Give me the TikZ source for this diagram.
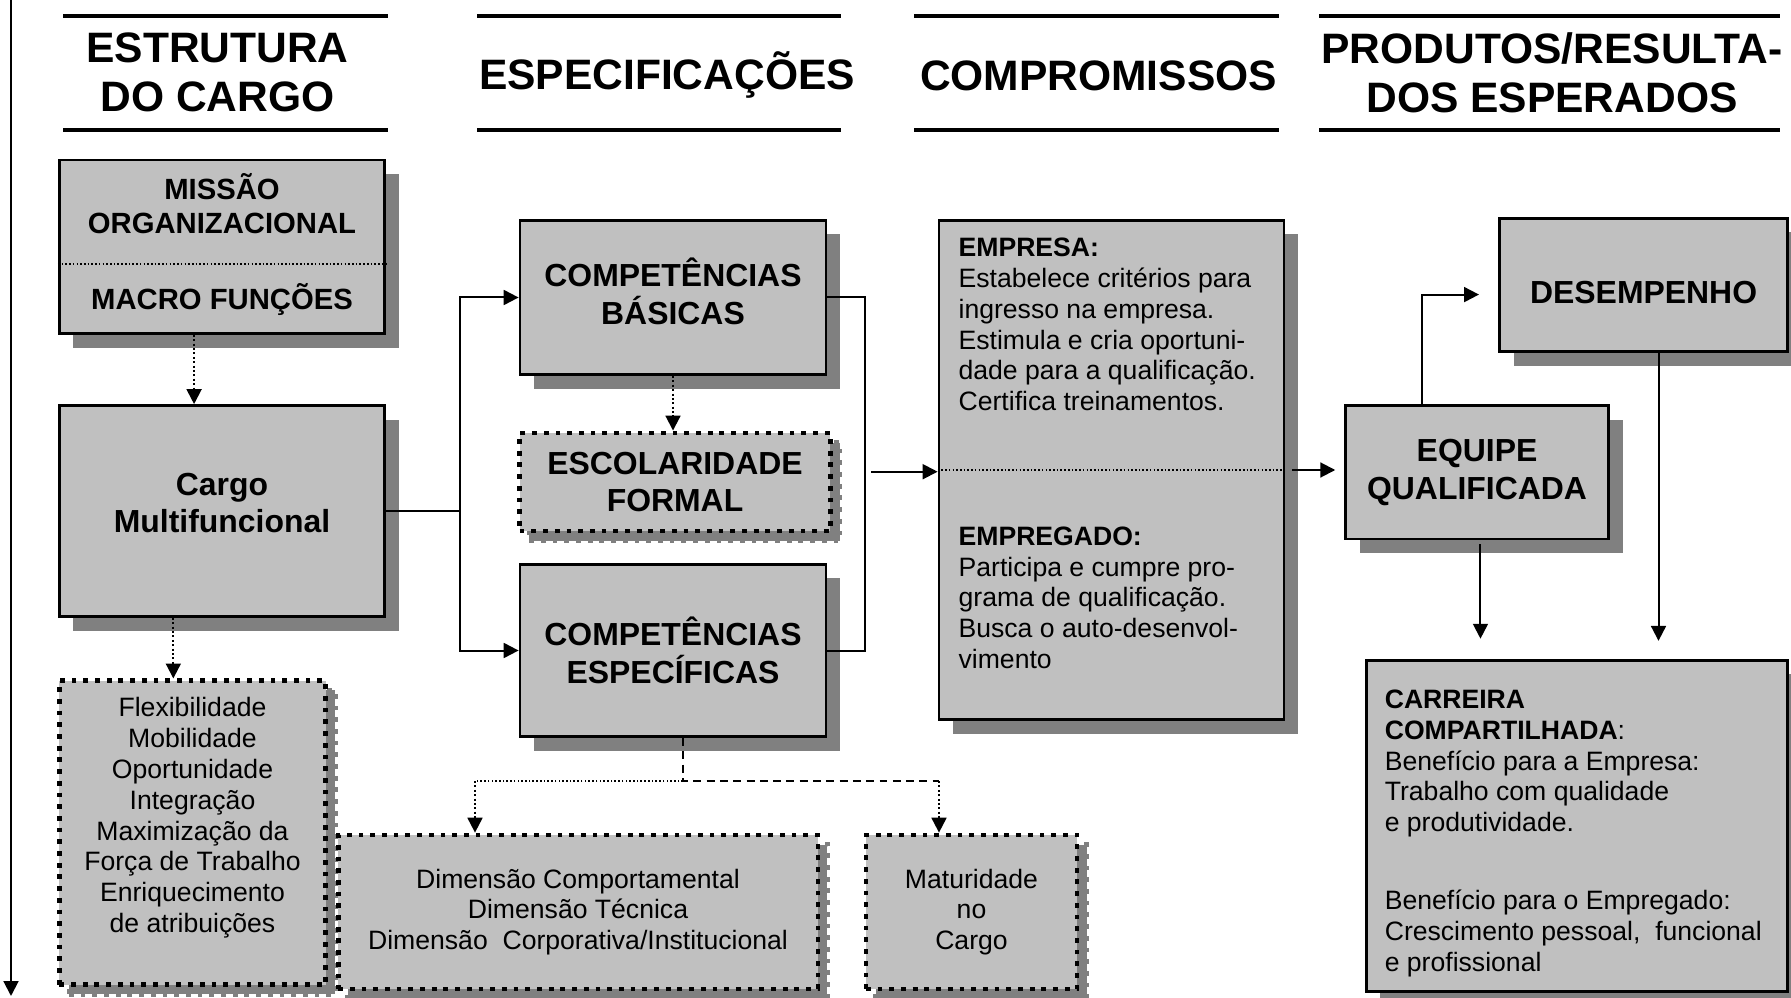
\documentclass[tikz,border=0pt]{standalone}
\usepackage{fontspec}
\setmainfont{Liberation Sans}
\usetikzlibrary{arrows.meta,shadows}

\definecolor{boxgray}{HTML}{C0C0C0}
\definecolor{shadegray}{HTML}{808080}

\begin{document}
\begin{tikzpicture}[x=0.376pt,y=-0.376pt,
  solidbox/.style={draw,line width=1pt,fill=boxgray,
    drop shadow={shadow xshift=5.3pt,shadow yshift=-5.3pt,fill=shadegray,opacity=1}},
  dotbox/.style={draw,line width=1.8pt,dash pattern=on 1.8pt off 2.6pt,fill=boxgray,
    drop shadow={shadow xshift=3.6pt,shadow yshift=-3.6pt,fill=shadegray,draw=shadegray,
      line width=1.8pt,dash pattern=on 1.8pt off 2.6pt,opacity=1}},
  ttl/.style={font=\fontsize{16}{18.5}\selectfont\bfseries,align=center},
  bigtxt/.style={font=\fontsize{12}{14.2}\selectfont\bfseries,align=center},
  midtxt/.style={font=\fontsize{11}{12.5}\selectfont\bfseries,align=center},
  body/.style={font=\fontsize{10}{11.6}\selectfont,align=center},
  headline/.style={line width=1.2pt},
  conn/.style={line width=0.75pt},
  arrow/.style={conn,-{Triangle[length=5.6pt,width=5.6pt]}},
  dotarrow/.style={arrow,dash pattern=on 0.75pt off 0.9pt},
  dashline/.style={conn,dash pattern=on 3pt off 2pt},
  sepline/.style={line width=0.6pt,dash pattern=on 0.6pt off 0.8pt}]
  \useasboundingbox (0,0) rectangle (1791,998);

  % column headers
  \foreach \xa/\xb in {63/388,477/841,914/1279,1319/1780} {
    \draw[headline] (\xa,16) -- (\xb,16);
    \draw[headline] (\xa,130) -- (\xb,130);
  }
  \node[ttl] (ttlcargo) at (217.5,72.5) {ESTRUTURA\\DO CARGO};
  \node[ttl] (ttlespec) at (667,75.4) {ESPECIFICAÇÕES};
  \node[ttl] (ttlcomp) at (1098.5,75.4) {COMPROMISSOS};
  \node[ttl] (ttlprod) at (1552,72.5) {PRODUTOS/RESULTA-\\DOS ESPERADOS};

  % time axis on the left
  \coordinate (axtop) at (11,0);
  \coordinate (axbot) at (11,996);
  \draw[arrow] (axtop) -- (axbot);

  % estrutura do cargo
  \node[solidbox,minimum width=122.4pt,minimum height=65.3pt] (missao) at (222,246.7) {};
  \coordinate (missep) at ([yshift=-6.5pt]missao.west);
  \draw[sepline] (missep) -- (missep -| missao.east);
  \node[midtxt] (missaotxt) at ([yshift=16.2pt]missao.center) {MISSÃO\\ORGANIZACIONAL};
  \node[midtxt] (macrotxt) at ([yshift=-19.8pt]missao.center) {MACRO FUNÇÕES};

  \node[solidbox,minimum width=122.4pt,minimum height=79.4pt] (cargo) at (222,511) {};
  \node[bigtxt] (cargotxt) at ([yshift=3pt]cargo.center) {Cargo\\Multifuncional};

  \node[dotbox,minimum width=100.1pt,minimum height=114.2pt] (flex) at (192.5,832.7) {};
  \node[body] (flextxt) at ([yshift=5.6pt]flex.center)
    {Flexibilidade\\Mobilidade\\Oportunidade\\Integração\\Maximização da\\Força de Trabalho\\Enriquecimento\\de atribuições};

  \draw[dotarrow] ([xshift=-10.5pt]missao.south) -- ([xshift=-10.5pt]missao.south |- cargo.north);
  \draw[dotarrow] ([xshift=-18.3pt]cargo.south) -- ([xshift=-18.3pt]cargo.south |- flex.north);

  % especificacoes
  \node[solidbox,minimum width=115.1pt,minimum height=58pt] (basicas) at (673,297.5) {};
  \node[bigtxt] (basicastxt) at ([yshift=2.4pt]basicas.center) {COMPETÊNCIAS\\BÁSICAS};
  \node[dotbox,bigtxt,minimum width=116.8pt,minimum height=36.9pt] (escolar) at (675,482) {ESCOLARIDADE\\FORMAL};
  \node[solidbox,bigtxt,minimum width=115.1pt,minimum height=64.9pt] (especif) at (673,650.5) {COMPETÊNCIAS\\ESPECÍFICAS};
  \node[dotbox,body,minimum width=180.4pt,minimum height=57.9pt] (dimensao) at (578,912)
    {Dimensão Comportamental\\Dimensão Técnica\\Dimensão~ Corporativa/Institucional};
  \node[dotbox,body,minimum width=79.4pt,minimum height=57.9pt] (maturidade) at (971.5,912) {Maturidade\\no\\Cargo};

  \coordinate (split) at (460,511);
  \draw[conn] (cargo.east) -- (split);
  \draw[arrow] (split) |- (basicas.west);
  \draw[arrow] (split) |- (especif.west);
  \draw[dotarrow] (basicas.south) -- (basicas.south |- escolar.north);

  \coordinate (fork) at (683,781);
  \coordinate (forkl) at (475,781);
  \coordinate (forkr) at (939,781);
  \draw[dashline] (especif.south -| fork) -- (fork) -- (forkr);
  \draw[dotarrow] (forkr) -- (forkr |- maturidade.north);
  \draw[sepline,line width=0.75pt] (fork) -- (forkl);
  \draw[dotarrow] (forkl) -- (forkl |- dimensao.north);

  % compromissos
  \node[solidbox,minimum width=129.7pt,minimum height=187.7pt] (comp) at (1111.4,470) {};
  \draw[sepline] (comp.west) -- (comp.east);
  \node[body,align=left,anchor=north west,inner sep=0] (empresa) at ([xshift=7.7pt,yshift=-6.9pt]comp.north west)
    {\textbf{EMPRESA:}\\Estabelece critérios para\\ingresso na empresa.\\Estimula e cria oportuni-\\dade para a qualificação.\\Certifica treinamentos.};
  \node[body,align=left,anchor=north west,inner sep=0] (empregado) at ([xshift=7.7pt,yshift=-21.1pt]comp.west)
    {\textbf{EMPREGADO:}\\Participa e cumpre pro-\\grama de qualificação.\\Busca o auto-desenvol-\\vimento};

  \coordinate (join) at (865,471.7);
  \draw[conn] (basicas.east) -| (join) |- (especif.east);
  \draw[arrow] ([xshift=2.3pt]join) -- (join -| comp.west);

  % produtos / resultados esperados
  \node[solidbox,bigtxt,minimum width=98.8pt,minimum height=50.2pt] (equipe) at (1477,472.3) {EQUIPE\\QUALIFICADA};
  \node[solidbox,minimum width=108.2pt,minimum height=50.2pt] (desemp) at (1643.6,285) {};
  \node[bigtxt] (desemptxt) at ([yshift=-2.8pt]desemp.center) {DESEMPENHO};
  \node[solidbox,minimum width=158.4pt,minimum height=124.5pt] (carreira) at (1576.8,825.8) {};
  \node[body,align=left,anchor=north west,inner sep=0] (carrtxt) at ([xshift=7.3pt,yshift=-11.4pt]carreira.north west)
    {\textbf{CARREIRA}\\\textbf{COMPARTILHADA}:\\Benefício para a Empresa:\\Trabalho com qualidade\\e produtividade.\\[17.6pt]
     Benefício para o Empregado:\\Crescimento pessoal,~ funcional\\e profissional};

  \draw[arrow,shorten >=3.4pt] ([xshift=2.6pt]comp.east) -- (comp.east -| equipe.west);
  \draw[arrow,shorten >=7.3pt] ([xshift=-20.6pt]equipe.north) |- ([yshift=-3.6pt]desemp.west);
  \draw[arrow,shorten <=1.5pt,shorten >=7.6pt] ([xshift=1.3pt]equipe.south) -- ([xshift=1.3pt]equipe.south |- carreira.north);
  \draw[arrow,shorten >=6.8pt] ([xshift=5.6pt]desemp.south) -- ([xshift=5.6pt]desemp.south |- carreira.north);
\end{tikzpicture}
\end{document}
